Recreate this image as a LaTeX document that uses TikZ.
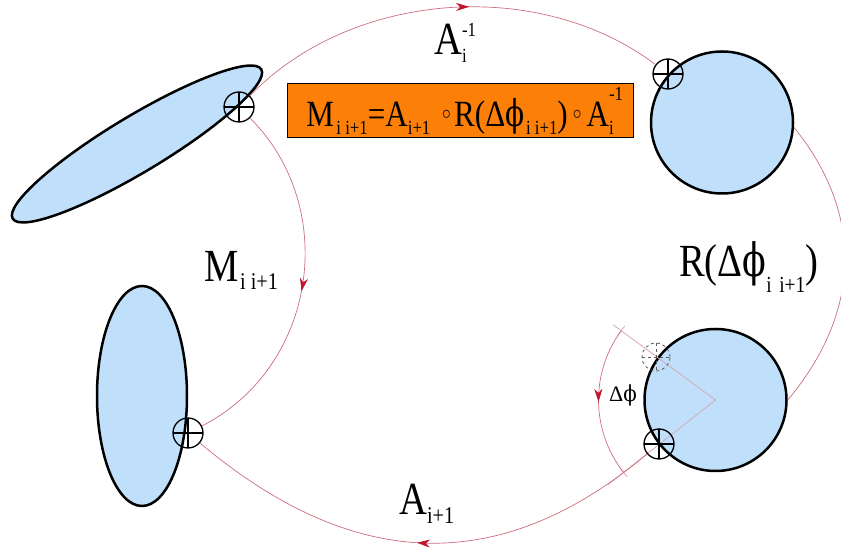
\documentclass[tikz,border=0pt]{standalone}
\usepackage{fontspec}
\setmainfont{Liberation Serif}
\newfontfamily\phifont{DejaVu Serif}
\usetikzlibrary{shapes.geometric,arrows.meta,decorations.markings}
\definecolor{shapefill}{RGB}{191,223,250}
\definecolor{connc}{RGB}{205,110,125}
\definecolor{arrowc}{RGB}{195,20,45}
\definecolor{boxorange}{RGB}{252,128,8}
\definecolor{radc}{RGB}{215,170,180}
\newcommand\sq[1]{\scalebox{0.84}[1]{#1}}
\newcommand\fs[1]{\fontsize{#1}{#1}\selectfont}
\newcommand\rng{\raisebox{7pt}{\fs{22}$\circ$}}
\newcommand\vphi{{\phifont\scalebox{0.9}[1]{ϕ}}}
\begin{document}
\begin{tikzpicture}[x=1pt,y=1pt,
  blob/.style={draw=black, line width=2.5pt, fill=shapefill, inner sep=0pt},
  xhair/.style={circle, draw=black, line width=1.3pt, minimum size=30pt, inner sep=0pt,
     path picture={\draw[line width=1.1pt] (path picture bounding box.north) -- (path picture bounding box.south) (path picture bounding box.west) -- (path picture bounding box.east);}},
  dxhair/.style={circle, draw=black!65, dashed, line width=0.8pt, minimum size=28pt, inner sep=0pt,
     path picture={\draw[black!65, dashed, line width=0.8pt] (path picture bounding box.north) -- (path picture bounding box.south) (path picture bounding box.west) -- (path picture bounding box.east);}},
  conn/.style={draw=connc, line width=0.7pt},
  midarrow/.style={postaction={decorate}, decoration={markings, mark=at position #1 with {\arrow{Stealth[length=13pt,width=8pt,inset=4pt,color=arrowc]}}}},
  midarrow/.default=0.5,
  radial/.style={draw=radc, line width=0.8pt},
  lbl/.style={anchor=base west, inner sep=0pt}
]
\useasboundingbox (0,0) rectangle (841,548);
\fill[white] (0,0) rectangle (841,548);

% shapes
\node[blob, ellipse, minimum width=290pt, minimum height=56pt, rotate=31] (e1) at (137,404) {};
\node[blob, ellipse, minimum width=90pt, minimum height=220pt] (e2) at (142,152) {};
\node[blob, circle, minimum size=142pt] (tr) at (722,425.5) {};
\node[blob, circle, minimum size=142pt] (br) at (715.5,148) {};

% rotation detail
\draw[radial] (br.center) -- ++(143.7:127pt);
\draw[radial] (br.center) -- ++(218.2:137pt);
\draw[radial] ([shift={(143.7:117pt)}]br.center) ++(53.7:6pt) -- ++(233.7:12pt);
\draw[radial] ([shift={(218.2:117pt)}]br.center) ++(128.2:6pt) -- ++(308.2:12pt);
\draw[conn, midarrow] ([shift={(143.7:117pt)}]br.center) arc[start angle=143.7, end angle=218.2, radius=117pt];

% crosshairs
\node[xhair] (x1) at (239,441) {};
\node[xhair] (x2) at (668,474) {};
\node[xhair] (x3) at (659,104) {};
\node[xhair] (x4) at (188,115) {};
\node[dxhair] (x5) at (656,191) {};

% connectors
\draw[conn, midarrow=0.55] (x1) to[out=46, in=143, looseness=0.92] (x2);
\draw[conn, midarrow=0.52] (x1) to[out=-45, in=27, looseness=1.05] (x4);
\draw[conn, midarrow=0.51] (x3) to[out=-140, in=-40, looseness=1.12] (x4);
\draw[conn] (tr.-4) to[out=-51, in=50, looseness=1.06] (br.0);

% equation box
\node[draw=black, line width=1pt, fill=boxorange, minimum width=346pt, minimum height=54pt, inner sep=0pt] (eq) at (460,437.5)
 {\sq{\fs{37}M\kern3pt\raisebox{-8pt}{\fs{20}i i+1}=A\raisebox{-8pt}{\fs{20}i+1}\hspace{14pt}\rng\hspace{4pt}R(Δ\vphi\kern2pt\raisebox{-8pt}{\fs{20}i i+1})\hspace{6pt}\rng\hspace{6pt}A\rlap{\raisebox{26pt}{\fs{20}-1}}\raisebox{-8pt}{\fs{20}i}}};

% labels
\node[lbl] (lAinv) at (434,493) {\sq{\fs{46}A\rlap{\raisebox{18pt}{\fs{20}-1}}\raisebox{-8pt}{\fs{20}i}}};
\node[lbl] (lM) at (204,266) {\sq{\fs{46}M\kern2pt\raisebox{-8pt}{\fs{24}i i+1}}};
\node[lbl] (lR) at (679,271) {\sq{\fs{46}R(Δ\vphi\raisebox{-16pt}{\fs{23}i\hspace{9pt}i+1})}};
\node[lbl] (lA) at (399,33) {\sq{\fs{46}A\raisebox{-9pt}{\fs{24}i+1}}};
\node[lbl] (ldphi) at (609,146) {\fs{22}Δ\vphi};
\end{tikzpicture}
\end{document}
